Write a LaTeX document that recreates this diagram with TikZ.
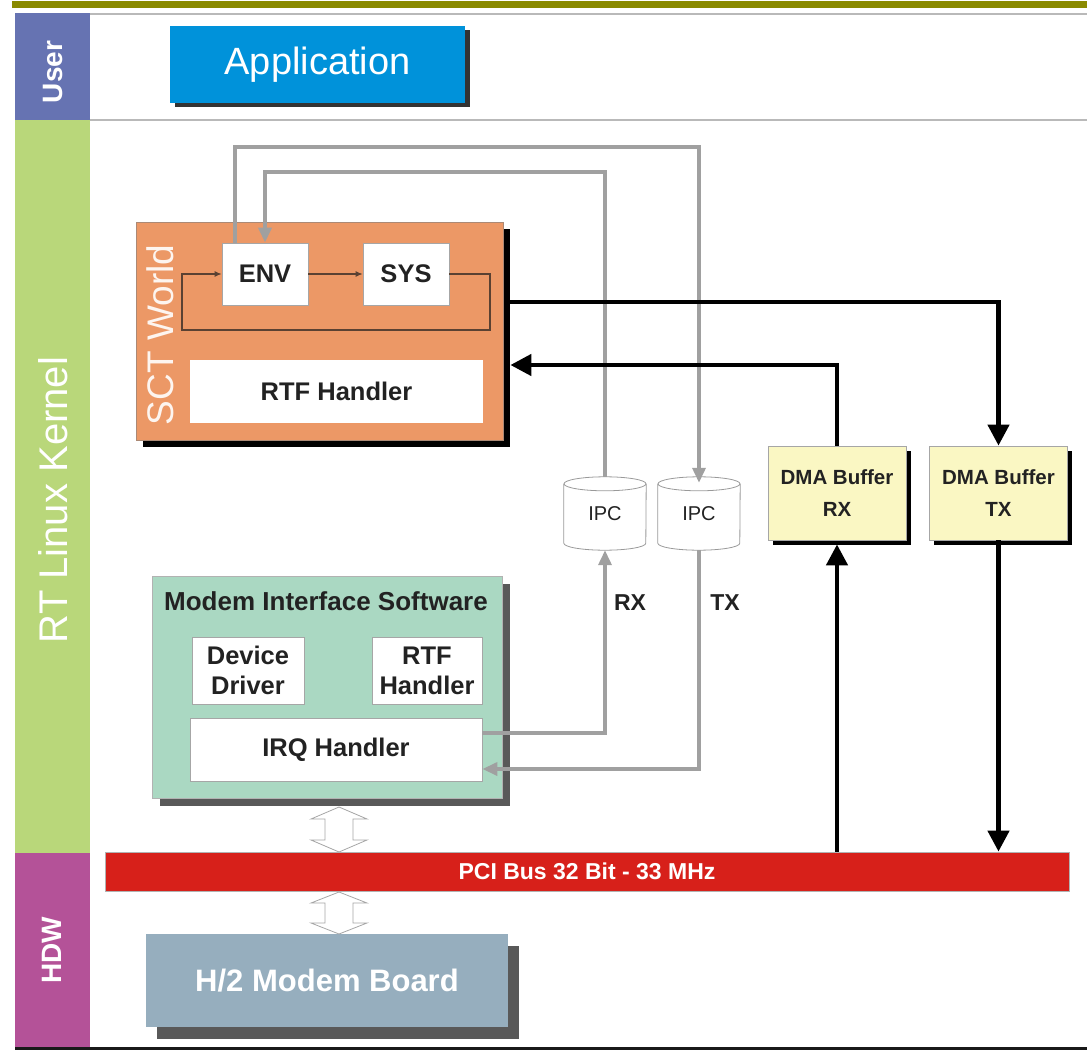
\documentclass[tikz,border=0pt]{standalone}
\usepackage{fontspec}
\setmainfont{Liberation Sans}
\usetikzlibrary{arrows.meta,shadows,calc}

\definecolor{olivebar}{RGB}{138,138,0}
\definecolor{usercol}{RGB}{102,115,178}
\definecolor{kernelcol}{RGB}{185,215,122}
\definecolor{hdwcol}{RGB}{180,82,152}
\definecolor{appcol}{RGB}{0,146,218}
\definecolor{sctcol}{RGB}{236,152,102}
\definecolor{miscol}{RGB}{170,216,194}
\definecolor{dmacol}{RGB}{250,247,195}
\definecolor{pcicol}{RGB}{215,32,26}
\definecolor{boardcol}{RGB}{150,174,190}
\definecolor{glinecol}{RGB}{160,160,160}
\definecolor{txtcol}{RGB}{34,34,34}
\definecolor{loopcol}{RGB}{90,65,50}

\newcommand\fsz[2]{\fontsize{#1}{#2}\selectfont}

\begin{document}
\begin{tikzpicture}[x=1pt,y=-1pt,
  box/.style={draw=gray!70, line width=0.8pt, fill=white, inner sep=0pt, align=center,
              text=txtcol, font=\fsz{25.5}{30}\bfseries},
  ipc/.style={minimum width=82pt, minimum height=73pt, inner sep=0pt, text=txtcol, font=\fsz{20}{20}},
  ipcline/.style={draw=gray!80, line width=0.8pt},
  dma/.style={fill=dmacol, draw=gray!70, line width=0.8pt, minimum width=138pt, minimum height=94pt,
              inner sep=0pt, align=center, font=\fsz{20.5}{32}\bfseries, text=txtcol,
              drop shadow={shadow xshift=4.5pt, shadow yshift=-4.5pt, fill=black, opacity=1}},
  sidelbl/.style={rotate=90, text=white, inner sep=0pt},
  glink/.style={draw=glinecol, line width=3.5pt, -{Triangle[length=15pt,width=13pt]}},
  blink/.style={draw=black, line width=4.5pt, -{Triangle[length=21pt,width=21pt]}},
  looplink/.style={draw=loopcol, line width=1.1pt, -{Latex[length=7pt,width=6pt]}},
  hollow/.style={draw=gray!70, fill=white, line width=0.8pt}
]
\useasboundingbox (0,0) rectangle (1087,1054);

% frame lines
\fill[olivebar] (12,1.5) rectangle (1087,8);
\draw[gray!55, line width=2pt] (15,14) -- (1087,14);
\draw[gray!55, line width=2pt] (90,120) -- (1087,120);

% sidebars
\fill[usercol] (15,13) rectangle (90,120);
\fill[kernelcol] (15,120) rectangle (90,853);
\fill[hdwcol] (15,853) rectangle (90,1047);
\fill[black!90] (15,1046.5) rectangle (1087,1050);
\node[sidelbl, font=\fsz{28}{30}\bfseries] (userlbl) at (53,72) {User};
\node[sidelbl, font=\fsz{40}{42}] (kernlbl) at (53,500) {RT Linux Kernel};
\node[sidelbl, font=\fsz{28}{30}\bfseries] (hdwlbl) at (52,950) {HDW};

% Application
\node[fill=appcol, minimum width=295pt, minimum height=77pt, inner sep=0pt, text=white,
      font=\fsz{38}{40},
      drop shadow={shadow xshift=5pt,shadow yshift=-4pt,fill=black!80,opacity=1}]
      (app) at (317.5,64.5) {Application};

% SCT World
\node[fill=sctcol, draw=gray!60!sctcol, line width=0.8pt, minimum width=367pt, minimum height=218pt,
      drop shadow={shadow xshift=7pt,shadow yshift=-7pt,fill=black,opacity=1}]
      (sct) at (319.5,331) {};
\node[sidelbl, text=white!90!sctcol, font=\fsz{37}{40}] (sctlbl) at (160,335) {SCT World};
\node[box, minimum width=86pt, minimum height=62pt] (env) at (265,274) {ENV};
\node[box, minimum width=86pt, minimum height=62pt] (sys) at (406,274) {SYS};
\node[box, draw=none, minimum width=293pt, minimum height=63pt] (rtf1) at (336.5,391.5) {RTF Handler};

\coordinate (lpR) at (490,330);
\coordinate (lpL) at (182,330);
\draw[looplink] (env.east) -- (sys.west);
\draw[looplink] (sys.east) -| (lpR) -- (lpL) |- (env.west);

% IPC cylinders
\node[ipc] (ipcrx) at (605,513.5) {\raisebox{-6pt}{IPC}};
\node[ipc] (ipctx) at (699,513.5) {\raisebox{-6pt}{IPC}};
\foreach \n in {ipcrx,ipctx}{
  \draw[ipcline] ([yshift=-7pt]\n.north west) -- ([yshift=7pt]\n.south west)
     arc[start angle=180,end angle=360,x radius=41pt,y radius=7pt] -- ([yshift=-7pt]\n.north east);
  \draw[ipcline] ([yshift=-7pt]\n.north) ellipse[x radius=41pt, y radius=7pt];
}

% DMA buffers
\node[dma] (dmarx) at (837,493) {DMA Buffer\\RX};
\node[dma] (dmatx) at (998.5,493) {DMA Buffer\\TX};

% Modem interface software
\node[fill=miscol, draw=gray!60, line width=0.8pt, minimum width=350pt, minimum height=222pt,
      drop shadow={shadow xshift=8pt,shadow yshift=-8pt,fill=black!65,opacity=1}]
      (mis) at (327,687) {};
\node[font=\fsz{26}{30}\bfseries, text=txtcol, inner sep=0pt] (mistitle) at (326,601) {Modem Interface Software};
\node[box, minimum width=112pt, minimum height=67pt] (dd) at (248,670.5) {Device\\Driver};
\node[box, minimum width=110pt, minimum height=67pt] (rtf2) at (427,670.5) {RTF\\Handler};
\node[box, minimum width=292pt, minimum height=63pt] (irq) at (336,749.5) {IRQ Handler};

% PCI bus
\node[fill=pcicol, draw=gray!60, line width=0.8pt, minimum width=964pt, minimum height=39pt,
      inner sep=0pt, text=white, font=\fsz{23}{25}\bfseries] (pci) at (587,871.5) {PCI Bus 32 Bit - 33 MHz};

% H/2 board
\node[fill=boardcol, minimum width=362pt, minimum height=93pt, inner sep=0pt, text=white,
      font=\fsz{31}{33}\bfseries,
      drop shadow={shadow xshift=11pt,shadow yshift=-12pt,fill=black!65,opacity=1}]
      (h2) at (327,980.5) {H/2 Modem Board};

% labels
\node[font=\fsz{23}{24}\bfseries, text=txtcol] (rxlbl) at (630,603) {RX};
\node[font=\fsz{23}{24}\bfseries, text=txtcol] (txlbl) at (725,603) {TX};

% gray IPC connectors
\coordinate (ytop1) at (0,147);
\coordinate (ytop2) at (0,172);
\draw[glink] ([xshift=-30pt]env.north) |- (ipctx.north |- ytop1) -- ([yshift=-6pt]ipctx.north);
\draw[glink] (ipcrx.north) |- (env.north |- ytop2) -- (env.north);
\draw[glink] ([yshift=16.5pt]irq.east) -| (ipcrx.south);
\draw[glink] (ipctx.south) |- ([yshift=-19.5pt]irq.east);

% black DMA connectors
\draw[blink] ([xshift=7pt,yshift=29pt]sct.east) -| (dmatx.north);
\draw[blink] (dmarx.north) |- ([xshift=7pt,yshift=-34pt]sct.east);
\draw[blink] (pci.north -| dmarx.south) -- ([yshift=-4pt]dmarx.south);
\draw[blink] (dmatx.south) -- (pci.north -| dmatx.south);

% hollow double arrows
\draw[hollow] (339,807) -- (367,819) -- (353,819) -- (353,840) -- (367,840) -- (339,852)
  -- (311,840) -- (325,840) -- (325,819) -- (311,819) -- cycle;
\draw[hollow] (339,892) -- (367,903) -- (353,903) -- (353,923) -- (367,923) -- (339,934)
  -- (311,923) -- (325,923) -- (325,903) -- (311,903) -- cycle;
\end{tikzpicture}
\end{document}
